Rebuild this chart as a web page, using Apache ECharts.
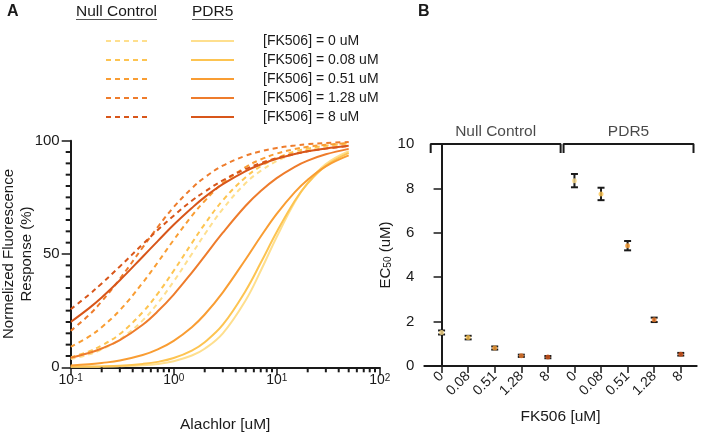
<!DOCTYPE html>
<html>
<head>
<meta charset="utf-8">
<script src="https://cdn.jsdelivr.net/npm/echarts@6/dist/echarts.min.js"></script>
<style>
  html, body { margin: 0; padding: 0; background: #fff; }
  #chart { width: 703px; height: 435px; }
</style>
</head>
<body>
<div id="chart"></div>
<script>
// FK506 concentrations and their colours
const fkLabels = ['0', '0.08', '0.51', '1.28', '8']
const fkColors = ['#FEDF8E', '#FDC451', '#F99D33', '#EE7C2C', '#D8561A']
const groups = ['Null Control', 'PDR5']

// panel A: dose response curves
const alachlor = [0.1, 0.15, 0.2, 0.3, 0.5, 0.7, 1, 1.5, 2, 3, 5, 7, 10, 15, 20, 30, 50]
const nullCurves = [
  [3.6, 5.7, 7.9, 12.3, 20.7, 28.3, 37.9, 50.0, 58.7, 69.9, 81.3, 86.7, 91.0, 94.3, 95.9, 97.5, 98.6],
  [4.4, 7.0, 9.6, 14.7, 24.3, 32.5, 42.6, 54.8, 63.2, 73.7, 83.9, 88.7, 92.3, 95.2, 96.5, 97.8, 98.8],
  [9.1, 13.5, 17.7, 25.2, 37.3, 46.3, 56.2, 66.8, 73.4, 81.3, 88.4, 91.7, 94.3, 96.3, 97.3, 98.2, 99.0],
  [16.1, 23.0, 29.1, 39.0, 52.9, 61.9, 70.7, 79.0, 83.8, 89.0, 93.4, 95.3, 96.8, 97.9, 98.5, 99.0, 99.4],
  [25.6, 32.0, 37.0, 44.5, 54.3, 60.6, 66.9, 73.5, 77.5, 82.5, 87.5, 90.1, 92.3, 94.2, 95.3, 96.5, 97.6]
]
const pdr5Curves = [
  [0.2, 0.2, 0.3, 0.5, 0.9, 1.5, 2.7, 5.2, 8.2, 15.0, 29.6, 42.6, 57.5, 72.9, 81.4, 89.7, 95.4],
  [0.3, 0.3, 0.4, 0.7, 1.5, 2.4, 4.1, 7.4, 11.1, 18.8, 33.8, 46.1, 59.7, 73.5, 81.2, 88.9, 94.6],
  [0.8, 1.3, 1.9, 3.0, 5.4, 7.9, 11.7, 17.7, 23.3, 33.1, 47.7, 57.7, 67.7, 77.3, 82.8, 88.7, 93.5],
  [4.2, 6.3, 8.3, 12.0, 18.8, 24.7, 32.1, 41.8, 49.1, 59.4, 71.3, 77.8, 83.5, 88.5, 91.2, 94.0, 96.4],
  [20.0, 26.0, 30.8, 38.4, 48.8, 55.7, 62.9, 70.3, 75.1, 80.8, 86.6, 89.5, 92.0, 94.1, 95.3, 96.6, 97.8]
]
const responseMinor = [5, 10, 15, 20, 25, 30, 35, 40, 45, 55, 60, 65, 70, 75, 80, 85, 90, 95]
const alachlorMinor = [0.2, 0.3, 0.4, 0.5, 0.6, 0.7, 0.8, 0.9, 2, 3, 4, 5, 6, 7, 8, 9, 20, 30, 40, 50, 60, 70, 80, 90]

// panel B: EC50 with error
const nullEc50 = [1.51, 1.28, 0.81, 0.46, 0.4]
const nullErr = [0.09, 0.08, 0.07, 0.05, 0.05]
const pdr5Ec50 = [8.35, 7.75, 5.42, 2.08, 0.53]
const pdr5Err = [0.3, 0.28, 0.21, 0.1, 0.06]

const font = "'Liberation Sans', Arial, sans-serif"
const black = '#1a1a1a'

const chart = echarts.init(document.getElementById('chart'))

const curveSeries = []
nullCurves.forEach((vals, i) => {
  curveSeries.push({
    name: 'null' + i,
    type: 'line',
    xAxisIndex: 0,
    yAxisIndex: 0,
    data: alachlor.map((x, j) => [x, vals[j]]),
    symbol: 'none',
    smooth: 0.4,
    lineStyle: { color: fkColors[i], width: 2, type: [5, 4] },
    itemStyle: { color: fkColors[i] }
  })
})
pdr5Curves.forEach((vals, i) => {
  curveSeries.push({
    name: 'pdr5' + i,
    type: 'line',
    xAxisIndex: 0,
    yAxisIndex: 0,
    data: alachlor.map((x, j) => [x, vals[j]]),
    symbol: 'none',
    smooth: 0.4,
    lineStyle: { color: fkColors[i], width: 2 },
    itemStyle: { color: fkColors[i] }
  })
})

// small ticks of panel A, placed through the axes as tiny rect symbols
const minorTickSeries = [
  {
    name: 'minorX',
    type: 'scatter',
    xAxisIndex: 0,
    yAxisIndex: 0,
    clip: false,
    silent: true,
    symbol: 'rect',
    symbolSize: [2, 5],
    symbolOffset: [0, 2.5],
    itemStyle: { color: black, opacity: 1 },
    data: alachlorMinor.map(v => [v, 0]),
    z: 5
  },
  {
    name: 'minorY',
    type: 'scatter',
    xAxisIndex: 0,
    yAxisIndex: 0,
    clip: false,
    silent: true,
    symbol: 'rect',
    symbolSize: [5, 2],
    symbolOffset: [-2.5, 0],
    itemStyle: { color: black, opacity: 1 },
    data: responseMinor.map(v => [0.1, v]),
    z: 5
  }
]

// panel B data, index along x: group * 5 + concentration
const points = []
const groupVals = [nullEc50, pdr5Ec50]
const groupErrs = [nullErr, pdr5Err]
groupVals.forEach((vals, g) => {
  vals.forEach((v, i) => {
    points.push({ value: [g * fkLabels.length + i, v, groupErrs[g][i]], itemStyle: { color: fkColors[i] } })
  })
})
const catTicks = groups.flatMap((g, gi) => fkLabels.map((l, i) => gi * fkLabels.length + i))

const bracketSeries = groups.map((name, g) => {
  const a = g * fkLabels.length - 0.41
  const b = (g + 1) * fkLabels.length - 1 + 0.48
  return {
    type: 'line',
    xAxisIndex: 1,
    yAxisIndex: 1,
    data: [[a, 9.6], [a, 10], [b, 10], [b, 9.6]],
    symbol: 'none',
    clip: false,
    silent: true,
    lineStyle: { color: black, width: 2 }
  }
})

const bracketLabels = {
  type: 'scatter',
  xAxisIndex: 1,
  yAxisIndex: 1,
  symbolSize: 0,
  clip: false,
  silent: true,
  data: groups.map((name, g) => ({
    name: name,
    value: [g * fkLabels.length + (fkLabels.length - 1) / 2 + 0.035, 10]
  })),
  label: {
    show: true,
    position: 'top',
    distance: 4,
    formatter: p => p.name,
    fontFamily: font,
    fontSize: 15.5,
    color: black
  }
}

const axisLineStyle = { lineStyle: { color: black, width: 2 } }
const tickStyle = { lineStyle: { color: black, width: 1.5 } }

const option = {
  animation: false,
  textStyle: { fontFamily: font },
  legend: [
    {
      data: nullCurves.map((v, i) => 'null' + i),
      orient: 'vertical',
      left: 100,
      top: 29,
      itemWidth: 42,
      itemHeight: 14,
      itemGap: 5,
      selectedMode: false,
      formatter: () => ' ',
      itemStyle: { opacity: 0 },
      textStyle: { fontSize: 14, fontFamily: font }
    },
    {
      data: pdr5Curves.map((v, i) => 'pdr5' + i),
      orient: 'vertical',
      left: 185,
      top: 29,
      itemWidth: 43,
      itemHeight: 14,
      itemGap: 5,
      selectedMode: false,
      itemStyle: { opacity: 0 },
      formatter: name => '[FK506] = ' + fkLabels[+name.slice(4)] + ' uM',
      textStyle: { fontSize: 14, fontFamily: font, color: black, padding: [0, 0, 0, 24] }
    }
  ],
  graphic: [
    { type: 'text', left: 7, top: 4, style: { text: 'A', font: 'bold 16px ' + font, fill: black } },
    { type: 'text', left: 418, top: 4, style: { text: 'B', font: 'bold 16px ' + font, fill: black } },
    { type: 'text', left: 76, top: 4, style: { text: 'Null Control', font: '15.5px ' + font, fill: black } },
    { type: 'line', shape: { x1: 76, y1: 19.5, x2: 157, y2: 19.5 }, style: { stroke: '#555', lineWidth: 1 } },
    { type: 'text', left: 192, top: 4, style: { text: 'PDR5', font: '15.5px ' + font, fill: black } },
    { type: 'line', shape: { x1: 192, y1: 19.5, x2: 233, y2: 19.5 }, style: { stroke: '#555', lineWidth: 1 } }
  ],
  grid: [
    { left: 70.7, right: 323.3, top: 140.7, bottom: 67.7, outerBoundsMode: 'none', containLabel: false },
    { left: 424.3, right: 6.3, top: 144, bottom: 69, outerBoundsMode: 'none', containLabel: false }
  ],
  xAxis: [
    {
      type: 'log',
      gridIndex: 0,
      logBase: 10,
      min: 0.1,
      max: 100,
      name: 'Alachlor [uM]',
      nameLocation: 'middle',
      nameGap: 49,
      nameTextStyle: { fontSize: 15.5, color: black, fontFamily: font },
      axisLine: axisLineStyle,
      axisTick: { length: 8, lineStyle: tickStyle.lineStyle },
      splitLine: { show: false },
      axisLabel: {
        margin: 6,
        color: black,
        fontSize: 14,
        formatter: v => '10{s|' + Math.round(Math.log10(v)) + '}',
        rich: { s: { fontSize: 10, verticalAlign: 'top', lineHeight: 10, color: black } }
      }
    },
    {
      type: 'value',
      gridIndex: 1,
      min: -0.65,
      max: 9.6,
      name: 'FK506 [uM]',
      nameLocation: 'middle',
      nameGap: 43,
      nameTextStyle: { fontSize: 15.5, color: black, fontFamily: font },
      axisLine: axisLineStyle,
      splitLine: { show: false },
      axisTick: { length: 7, customValues: catTicks, lineStyle: tickStyle.lineStyle },
      axisLabel: {
        rotate: 45,
        margin: 8,
        color: black,
        fontSize: 14,
        customValues: catTicks,
        formatter: v => fkLabels[Math.round(v) % fkLabels.length]
      }
    }
  ],
  yAxis: [
    {
      type: 'value',
      gridIndex: 0,
      min: 0,
      max: 100,
      interval: 50,
      name: 'Normelized Fluorescence\nResponse (%)',
      nameLocation: 'middle',
      nameGap: 35,
      nameMoveOverlap: false,
      nameTextStyle: { fontSize: 15, color: black, fontFamily: font, lineHeight: 18 },
      axisLine: { show: true, lineStyle: axisLineStyle.lineStyle },
      axisTick: { show: true, length: 9, lineStyle: tickStyle.lineStyle },
      splitLine: { show: false },
      axisLabel: { margin: 11, color: black, fontSize: 15 }
    },
    {
      type: 'value',
      gridIndex: 1,
      min: 0,
      max: 10,
      interval: 2,
      name: 'EC{sub|50} (uM)',
      nameLocation: 'middle',
      nameGap: 30,
      nameTextStyle: {
        fontSize: 15, color: black, fontFamily: font,
        rich: { sub: { fontSize: 10, verticalAlign: 'bottom', color: black, padding: [6, 0, 0, 0] } }
      },
      axisLine: { show: true, lineStyle: axisLineStyle.lineStyle },
      axisTick: { show: true, length: 8, lineStyle: tickStyle.lineStyle },
      splitLine: { show: false },
      axisLabel: { margin: 10, color: black, fontSize: 15 }
    }
  ],
  series: [
    ...curveSeries,
    ...minorTickSeries,
    ...bracketSeries,
    bracketLabels,
    {
      type: 'custom',
      xAxisIndex: 1,
      yAxisIndex: 1,
      data: points.map(p => p.value),
      renderItem: (params, api) => {
        const x = api.value(0)
        const y = api.value(1)
        const e = api.value(2)
        const top = api.coord([x, y + e])
        const bot = api.coord([x, y - e])
        const style = { stroke: black, lineWidth: 2 }
        return {
          type: 'group',
          children: [
            { type: 'line', shape: { x1: top[0], y1: top[1], x2: bot[0], y2: bot[1] }, style },
            { type: 'line', shape: { x1: top[0] - 3.5, y1: top[1], x2: top[0] + 3.5, y2: top[1] }, style },
            { type: 'line', shape: { x1: bot[0] - 3.5, y1: bot[1], x2: bot[0] + 3.5, y2: bot[1] }, style }
          ]
        }
      },
      z: 3
    },
    {
      type: 'scatter',
      xAxisIndex: 1,
      yAxisIndex: 1,
      symbolSize: 5,
      data: points,
      z: 4
    }
  ]
}

chart.setOption(option)
</script>
</body>
</html>
